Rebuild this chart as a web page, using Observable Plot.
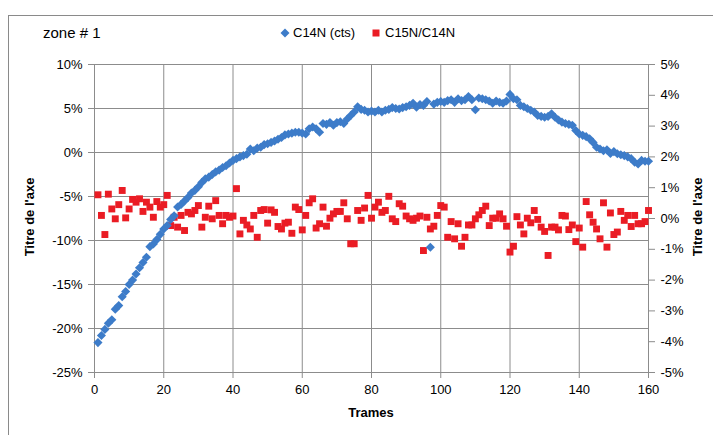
<!DOCTYPE html>
<html><head><meta charset="utf-8">
<script src="https://cdn.jsdelivr.net/npm/d3@7"></script>
<script src="https://cdn.jsdelivr.net/npm/@observablehq/plot@0.6"></script>
<style>
body{margin:0;background:#fff;}
#wrap{position:relative;width:713px;height:435px;overflow:hidden;font-family:"Liberation Sans",Arial,sans-serif;color:#000;}
#wrap svg{position:absolute;left:0;top:0;}
.abs{position:absolute;white-space:nowrap;}
#frame{position:absolute;left:8px;top:15px;width:800px;height:500px;border-top:1px solid #8a8a8a;border-left:1px solid #8a8a8a;}
</style></head><body><div id="wrap"><div id="frame"></div></div>
<script>
// Frame numbers (x)
const frames = d3.range(1, 161);
// C14N (cts), left axis, in %
const c14n = [
-21.6,-20.8,-20.1,-19.4,-19.0,-17.8,-17.4,-16.4,-15.8,-15.0,
-14.5,-13.8,-13.1,-12.5,-11.9,-10.7,-10.4,-9.9,-9.3,-8.7,
-8.3,-7.6,-7.2,-6.2,-5.9,-5.5,-5.1,-4.6,-4.3,-3.9,
-3.4,-3.0,-2.8,-2.5,-2.2,-2.0,-1.7,-1.5,-1.2,-0.9,
-0.7,-0.5,-0.35,-0.2,0.4,0.2,0.5,0.6,0.9,1.0,
1.15,1.3,1.5,1.7,2.0,2.1,2.2,2.3,2.3,2.2,
2.1,2.7,2.9,2.7,2.3,3.3,3.2,3.4,3.1,3.4,
3.5,3.3,3.8,4.2,4.6,5.2,4.9,4.8,4.6,4.7,
4.6,4.8,4.6,4.8,4.9,5.1,5.0,4.95,5.1,5.2,
5.35,5.6,5.15,5.45,5.35,5.8,-10.76,5.5,5.7,5.8,
5.7,5.9,6.0,5.7,6.1,5.9,6.0,6.35,6.0,4.85,
6.2,6.1,6.0,5.85,5.6,5.85,5.7,5.6,5.85,6.6,
6.1,6.0,5.35,5.2,5.0,4.8,4.6,4.2,4.1,4.0,
4.1,4.4,4.0,3.7,3.45,3.3,3.2,3.1,2.5,2.1,
1.95,1.8,1.55,1.15,0.6,0.4,0.2,0.3,-0.1,0.1,
-0.15,-0.25,-0.35,-0.5,-0.7,-1.1,-1.3,-0.9,-1.0,-1.0
];
// C15N/C14N, right axis, in %
const c15n = [
0.77,0.10,-0.52,0.79,0.31,-0.01,0.45,0.91,0.02,0.31,
0.62,0.53,0.64,0.23,0.53,0.37,0.04,0.55,0.37,0.45,
0.75,-0.23,0.04,-0.28,0.10,-0.39,0.20,0.15,0.26,0.42,
-0.28,0.04,0.40,-0.01,0.58,0.10,-0.17,0.10,0.04,0.08,
0.97,-0.50,-0.06,-0.21,-0.34,0.10,-0.61,0.26,0.29,-0.15,
0.28,0.20,-0.26,-0.34,-0.15,-0.12,-0.48,0.37,0.29,-0.37,
0.10,0.51,0.64,-0.31,-0.17,0.37,-0.25,0.01,0.15,0.23,
0.23,0.51,-0.01,-0.82,-0.82,0.26,-0.06,0.34,0.75,0.01,
0.37,0.53,0.20,0.26,0.72,-0.01,-0.10,0.48,0.40,0.08,
-0.01,-0.06,0.01,0.08,-1.04,0.04,-0.34,-0.25,0.10,0.42,
0.37,-0.61,-0.10,-0.66,-0.17,-0.90,-0.61,-0.21,-0.21,-0.01,
0.12,0.26,0.40,-0.23,0.01,0.01,0.15,-0.01,-0.25,-1.09,
-0.90,0.06,-0.21,-0.50,0.01,-0.14,0.26,-0.03,-0.28,-0.42,
-1.20,-0.28,-0.28,-0.37,0.10,0.08,-0.36,-0.21,-0.75,-0.31,
-0.93,0.55,0.12,-0.12,-0.34,-0.66,0.51,-0.93,0.18,-0.52,
-0.44,0.23,-0.06,0.10,-0.26,0.10,-0.17,-0.17,-0.10,0.26
];
const xTicks = [0,20,40,60,80,100,120,140,160];
const leftTicks = [-25,-20,-15,-10,-5,0,5,10];
const rightTicks = [-5,-4,-3,-2,-1,0,1,2,3,4,5];
const leftDomain = [-25, 10];
const rightDomain = [-5, 5];
const seriesNames = ["C14N (cts)", "C15N/C14N"];
const blueColor = "#3d7cc9", redColor = "#ea1c24", gridColor = "#8c8c8c";

// map right-axis values onto the left-axis scale
const toLeft = r => leftDomain[0] + (r - rightDomain[0]) / (rightDomain[1] - rightDomain[0]) * (leftDomain[1] - leftDomain[0]);

const blueData = frames.map((f, i) => ({f, v: c14n[i]}));
const redData = frames.map((f, i) => ({f, v: c15n[i]}));

const chart = Plot.plot({
  width: 713, height: 435,
  marginLeft: 94, marginRight: 65, marginTop: 64, marginBottom: 63,
  style: {fontFamily: '"Liberation Sans", Arial, sans-serif', fontSize: "13px", color: "#000", background: "transparent", overflow: "visible"},
  x: {domain: [0, 160]},
  y: {domain: leftDomain},
  marks: [
    Plot.gridY(leftTicks, {stroke: gridColor, strokeOpacity: 1}),
    Plot.gridX(xTicks, {stroke: gridColor, strokeOpacity: 1}),
    Plot.ruleX([0, 160], {stroke: gridColor}),
    Plot.ruleY([-25], {stroke: gridColor}),
    Plot.axisY(leftTicks, {anchor: "left", tickFormat: d => d + "%", tickSize: 6, tickPadding: 6, stroke: gridColor, fill: "#000", label: null}),
    Plot.axisY(rightTicks.map(toLeft), {anchor: "right", tickFormat: (d, i) => rightTicks[i] + "%", tickSize: 6, tickPadding: 6, stroke: gridColor, fill: "#000", label: null}),
    Plot.axisX(xTicks, {anchor: "bottom", tickFormat: d => String(d), tickSize: 6, tickPadding: 6, stroke: gridColor, fill: "#000", label: null}),
    Plot.dot(redData, {x: "f", y: d => toLeft(d.v), symbol: "square", r: 3.9, fill: redColor, stroke: "none"}),
    Plot.dot(blueData, {x: "f", y: "v", symbol: "diamond2", r: 4.1, fill: blueColor, stroke: "none"})
  ]
});
const wrap = document.getElementById("wrap");
wrap.appendChild(chart);

function addText(txt, css) {
  const d = document.createElement("div");
  d.className = "abs";
  d.textContent = txt;
  Object.assign(d.style, css);
  wrap.appendChild(d);
  return d;
}
addText("zone # 1", {left: "43px", top: "24px", fontSize: "15px", lineHeight: "18px"});
addText("Trames", {left: "371px", top: "405px", fontSize: "13px", fontWeight: "bold", transform: "translateX(-50%)", lineHeight: "16px"});
addText("Titre de l'axe", {left: "30px", top: "217px", fontSize: "13px", fontWeight: "bold", lineHeight: "16px", transform: "translate(-50%,-50%) rotate(-90deg)"});
addText("Titre de l'axe", {left: "698px", top: "217px", fontSize: "13px", fontWeight: "bold", lineHeight: "16px", transform: "translate(-50%,-50%) rotate(-90deg)"});

// legend
const leg = document.createElementNS("http://www.w3.org/2000/svg", "svg");
leg.setAttribute("width", "713"); leg.setAttribute("height", "60");
leg.style.position = "absolute"; leg.style.left = "0"; leg.style.top = "0";
leg.innerHTML = `<polygon points="285,28.5 289.5,33 285,37.5 280.5,33" fill="${blueColor}"/>
<rect x="372.5" y="29.5" width="7" height="7" fill="${redColor}"/>`;
wrap.appendChild(leg);
addText(seriesNames[0], {left: "293px", top: "25px", fontSize: "13px", lineHeight: "16px"});
addText(seriesNames[1], {left: "385px", top: "25px", fontSize: "13px", lineHeight: "16px"});
</script>
</body></html>
